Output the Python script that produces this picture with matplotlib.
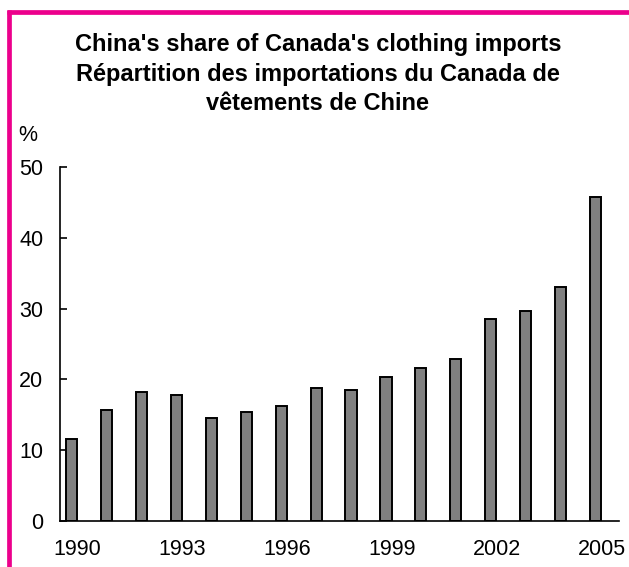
import matplotlib
matplotlib.use('Agg')
import matplotlib.pyplot as plt
from matplotlib.lines import Line2D

# Data
years = list(range(1990, 2006))
share = [11.6, 15.7, 18.2, 17.8, 14.5, 15.4, 16.2, 18.8,
         18.5, 20.3, 21.6, 22.9, 28.6, 29.7, 33.1, 45.8]
tick_years = [1990, 1993, 1996, 1999, 2002, 2005]
y_ticks = [0, 10, 20, 30, 40, 50]

plt.rcParams['font.family'] = ['Liberation Sans', 'DejaVu Sans']

W, H = 629, 567
fig = plt.figure(figsize=(W / 100, H / 100), dpi=100)
ax = fig.add_axes([60 / W, 1 - 521 / H, 559 / W, 354 / H])

x = list(range(len(years)))
# bars sit left of category centre (second series is empty in the original)
ax.bar([i - 0.17 for i in x], share, width=0.32, color='#808080',
       edgecolor='black', linewidth=1.4, zorder=3)

ax.set_xlim(-0.5, len(years) - 0.5)
ax.set_ylim(0, 50)
ax.set_yticks(y_ticks)
ax.set_xticks([years.index(y) for y in tick_years])
ax.set_xticklabels([str(y) for y in tick_years])

for s in ['top', 'right']:
    ax.spines[s].set_visible(False)
for s in ['left', 'bottom']:
    ax.spines[s].set_linewidth(1.2)
    ax.spines[s].set_zorder(4)

ax.tick_params(axis='y', direction='in', length=5, width=1.2, pad=12,
               labelsize=15.5)
ax.tick_params(axis='x', length=0, pad=13, labelsize=15.5)

ax.text(-0.075, 1.09, '%', transform=ax.transAxes, fontsize=15.5,
        ha='left', va='center')

title = ("China's share of Canada's clothing imports\n"
         "Répartition des importations du Canada de\n"
         "vêtements de Chine")
fig.text(318 / W, 1 - 74 / H, title, ha='center', va='center',
         fontsize=17, fontweight='bold', linespacing=1.36)

# magenta frame (left and top)
pink = '#EC008C'
fig.add_artist(Line2D([9.3 / W, 9.3 / W], [0, 1 - 10 / H], color=pink,
                      linewidth=3.4, transform=fig.transFigure,
                      solid_capstyle='butt'))
fig.add_artist(Line2D([7 / W, 1], [1 - 12 / H, 1 - 12 / H], color=pink,
                      linewidth=3.4, transform=fig.transFigure,
                      solid_capstyle='butt'))

fig.savefig('out.png', dpi=100)
